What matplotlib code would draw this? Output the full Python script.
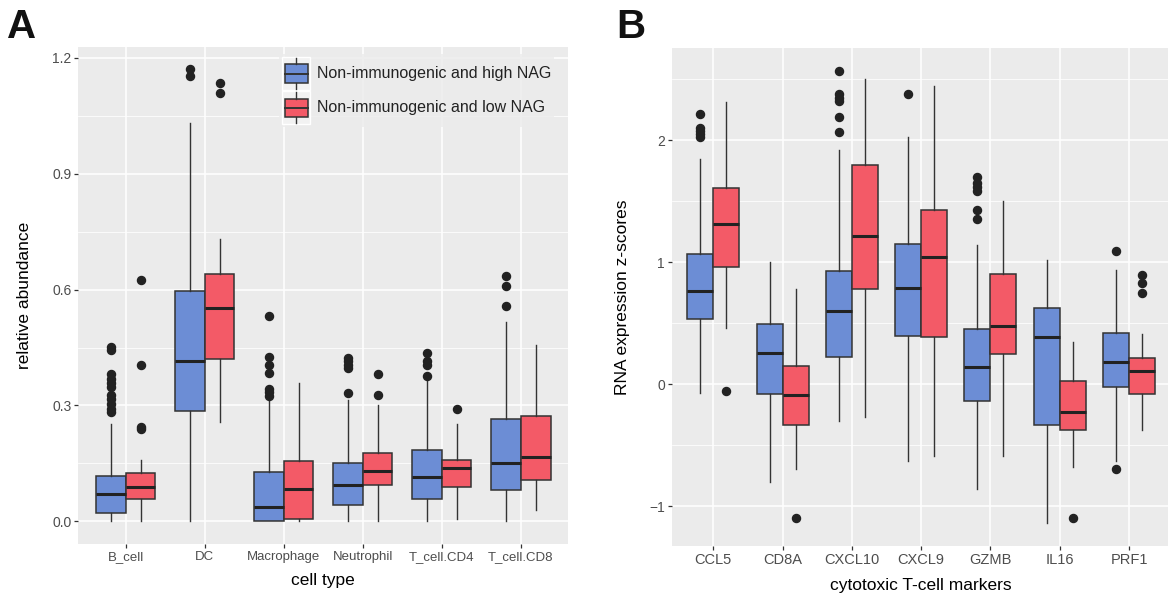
import matplotlib
matplotlib.use("Agg")

import matplotlib.pyplot as plt
from matplotlib.legend_handler import HandlerBase
from matplotlib.patches import Rectangle, Patch
from matplotlib.lines import Line2D
from matplotlib.ticker import MultipleLocator

plt.rcParams["font.family"] = ["Liberation Sans", "DejaVu Sans"]

# =========================
# DATA (box stats per group: lower whisker, q1, median, q3, upper whisker)
# =========================
cell_types = ["B_cell", "DC", "Macrophage", "Neutrophil", "T_cell.CD4", "T_cell.CD8"]

a_high_lo = [0.0, 0.0, 0.0, 0.0, 0.0, 0.0]
a_high_q1 = [0.023, 0.285, 0.001, 0.042, 0.059, 0.080]
a_high_med = [0.071, 0.415, 0.038, 0.095, 0.114, 0.150]
a_high_q3 = [0.117, 0.596, 0.128, 0.152, 0.186, 0.264]
a_high_hi = [0.252, 1.031, 0.320, 0.315, 0.370, 0.516]
a_high_out = [
    [0.451, 0.443, 0.381, 0.368, 0.357, 0.348, 0.327, 0.318, 0.303, 0.292, 0.283],
    [1.170, 1.152],
    [0.532, 0.426, 0.404, 0.384, 0.343, 0.335, 0.325],
    [0.424, 0.415, 0.404, 0.396, 0.331],
    [0.437, 0.415, 0.404, 0.377],
    [0.634, 0.608, 0.558],
]

a_low_lo = [0.0, 0.258, 0.0, 0.002, 0.005, 0.029]
a_low_q1 = [0.059, 0.419, 0.005, 0.095, 0.090, 0.108]
a_low_med = [0.090, 0.553, 0.083, 0.131, 0.137, 0.167]
a_low_q3 = [0.124, 0.641, 0.156, 0.178, 0.160, 0.272]
a_low_hi = [0.160, 0.731, 0.357, 0.301, 0.253, 0.456]
a_low_out = [
    [0.626, 0.404, 0.245, 0.239],
    [1.135, 1.108],
    [],
    [0.381, 0.328],
    [0.290],
    [],
]

markers = ["CCL5", "CD8A", "CXCL10", "CXCL9", "GZMB", "IL16", "PRF1"]

b_high_lo = [-0.068, -0.797, -0.304, -0.625, -0.855, -1.137, -0.630]
b_high_q1 = [0.534, -0.077, 0.227, 0.400, -0.137, -0.332, -0.019]
b_high_med = [0.764, 0.260, 0.600, 0.792, 0.140, 0.392, 0.186]
b_high_q3 = [1.066, 0.499, 0.926, 1.148, 0.458, 0.627, 0.419]
b_high_hi = [1.849, 1.000, 1.918, 2.027, 1.145, 1.022, 0.940]
b_high_out = [
    [2.216, 2.104, 2.075, 2.050, 2.030],
    [],
    [2.570, 2.378, 2.351, 2.326, 2.195, 2.071],
    [2.384],
    [1.701, 1.652, 1.619, 1.584, 1.427, 1.353],
    [],
    [1.093, -0.690],
]

b_low_lo = [0.460, -0.696, -0.266, -0.586, -0.586, -0.679, -0.375]
b_low_q1 = [0.962, -0.332, 0.784, 0.392, 0.249, -0.370, -0.079]
b_low_med = [1.312, -0.090, 1.216, 1.044, 0.479, -0.230, 0.110]
b_low_q3 = [1.611, 0.151, 1.800, 1.430, 0.904, 0.027, 0.219]
b_low_hi = [2.318, 0.781, 2.501, 2.447, 1.501, 0.351, 0.414]
b_low_out = [
    [-0.055],
    [-1.093],
    [],
    [],
    [],
    [-1.093],
    [0.893, 0.830, 0.751],
]

series_labels = ["Non-immunogenic and high NAG", "Non-immunogenic and low NAG"]
BLUE = "#6C8DD5"
RED = "#F35A67"
EDGE = "#333333"
PANEL_BG = "#EBEBEB"
TICK_TXT = "#4D4D4D"


def make_stats(lo, q1, med, q3, hi, out):
    return [
        {"whislo": a, "q1": b, "med": c, "q3": d, "whishi": e, "fliers": f}
        for a, b, c, d, e, f in zip(lo, q1, med, q3, hi, out)
    ]


def draw_boxes(ax, stats, offset, color):
    pos = [i + offset for i in range(len(stats))]
    ax.bxp(
        stats, positions=pos, widths=0.375, patch_artist=True,
        showcaps=False, manage_ticks=False,
        boxprops=dict(facecolor=color, edgecolor=EDGE, linewidth=1.1),
        medianprops=dict(color="#222222", linewidth=2.2, solid_capstyle="butt"),
        whiskerprops=dict(color=EDGE, linewidth=1.0),
        flierprops=dict(marker="o", markersize=5.8, markerfacecolor="#222222",
                        markeredgecolor="#222222", linestyle="none"),
    )


def style_panel(ax, labels, minor_step, xfont):
    ax.set_facecolor(PANEL_BG)
    for s in ax.spines.values():
        s.set_visible(False)
    ax.set_axisbelow(True)
    ax.set_xticks(range(len(labels)))
    ax.set_xticklabels(labels)
    ax.yaxis.set_minor_locator(MultipleLocator(minor_step))
    ax.grid(which="major", color="white", linewidth=1.1)
    ax.grid(which="minor", axis="y", color="white", linewidth=0.55)
    ax.tick_params(which="major", length=3, width=0.9, color="#333333",
                   labelcolor=TICK_TXT, pad=2)
    ax.tick_params(axis="x", labelsize=xfont)
    ax.tick_params(axis="y", labelsize=10)
    ax.tick_params(which="minor", length=0)
    ax.set_xlim(-0.6, len(labels) - 0.4)


def expand(*groups):
    vals = []
    for g in groups:
        for v in g:
            if isinstance(v, list):
                vals.extend(v)
            else:
                vals.append(v)
    lo, hi = min(vals), max(vals)
    pad = (hi - lo) * 0.05
    return lo - pad, hi + pad


class BoxKey(HandlerBase):
    # ggplot-like boxplot legend glyph
    def create_artists(self, legend, orig_handle, xdescent, ydescent,
                       width, height, fontsize, trans):
        x0, y0 = -xdescent, -ydescent
        fc = orig_handle.get_facecolor()
        bg = Rectangle((x0, y0), width, height, facecolor="#F2F2F2",
                       edgecolor="white", linewidth=1.0, transform=trans)
        box = Rectangle((x0 + width * 0.1, y0 + height * 0.22), width * 0.8,
                        height * 0.56, facecolor=fc, edgecolor=EDGE,
                        linewidth=1.1, transform=trans)
        xm = x0 + width / 2
        med = Line2D([x0 + width * 0.1, x0 + width * 0.9],
                     [y0 + height / 2] * 2, color=EDGE, linewidth=1.4,
                     transform=trans)
        w1 = Line2D([xm, xm], [y0 + height * 0.78, y0 + height * 0.97],
                    color=EDGE, linewidth=1.0, transform=trans)
        w2 = Line2D([xm, xm], [y0 + height * 0.03, y0 + height * 0.22],
                    color=EDGE, linewidth=1.0, transform=trans)
        return [bg, box, med, w1, w2]


fig = plt.figure(figsize=(11.68, 6.0), dpi=100)
W, H = 1168.0, 600.0

# =========================
# PANEL A
# =========================
axA = fig.add_axes([78.3 / W, (H - 544) / H, 490 / W, 497.3 / H])
draw_boxes(axA, make_stats(a_high_lo, a_high_q1, a_high_med, a_high_q3, a_high_hi, a_high_out), -0.1875, BLUE)
draw_boxes(axA, make_stats(a_low_lo, a_low_q1, a_low_med, a_low_q3, a_low_hi, a_low_out), 0.1875, RED)
style_panel(axA, cell_types, 0.15, 9.5)
axA.set_yticks([0.0, 0.3, 0.6, 0.9, 1.2])
axA.set_yticklabels(["0.0", "0.3", "0.6", "0.9", "1.2"])
axA.set_ylim(*expand(a_high_lo, a_high_hi, a_high_out, a_low_lo, a_low_hi, a_low_out))
axA.set_xlabel("cell type", fontsize=12.5)
axA.set_ylabel("relative abundance", fontsize=12.5)
axA.xaxis.set_label_coords(0.5, -0.058)
axA.yaxis.set_label_coords(-0.094, 0.5)

handles = [Patch(facecolor=BLUE), Patch(facecolor=RED)]
leg = axA.legend(handles, series_labels, handler_map={Patch: BoxKey()},
                 loc="upper left", bbox_to_anchor=(0.41, 0.985),
                 fontsize=11.5, handlelength=1.75, handleheight=2.75,
                 handletextpad=0.4, labelspacing=0.1, borderpad=0.2,
                 borderaxespad=0, frameon=True, fancybox=False)
leg.get_frame().set_facecolor(PANEL_BG)
leg.get_frame().set_edgecolor("none")
for t in leg.get_texts():
    t.set_color("#222222")

# =========================
# PANEL B
# =========================
axB = fig.add_axes([671.7 / W, (H - 545.7) / H, 498.9 / W, 497.4 / H])
draw_boxes(axB, make_stats(b_high_lo, b_high_q1, b_high_med, b_high_q3, b_high_hi, b_high_out), -0.1875, BLUE)
draw_boxes(axB, make_stats(b_low_lo, b_low_q1, b_low_med, b_low_q3, b_low_hi, b_low_out), 0.1875, RED)
style_panel(axB, markers, 0.5, 10.5)
axB.set_yticks([-1, 0, 1, 2])
axB.set_yticklabels(["\u22121", "0", "1", "2"])
axB.set_ylim(*expand(b_high_lo, b_high_hi, b_high_out, b_low_lo, b_low_hi, b_low_out))
axB.set_xlabel("cytotoxic T-cell markers", fontsize=12.5)
axB.set_ylabel("RNA expression z-scores", fontsize=12.5)
axB.xaxis.set_label_coords(0.5, -0.064)
axB.yaxis.set_label_coords(-0.083, 0.5)

# panel letters
fig.text(7 / W, 1 - 38 / H, "A", fontsize=29, fontweight="bold", color="#111111")
fig.text(616 / W, 1 - 38 / H, "B", fontsize=29, fontweight="bold", color="#111111")

fig.savefig("out.png", dpi=100)
